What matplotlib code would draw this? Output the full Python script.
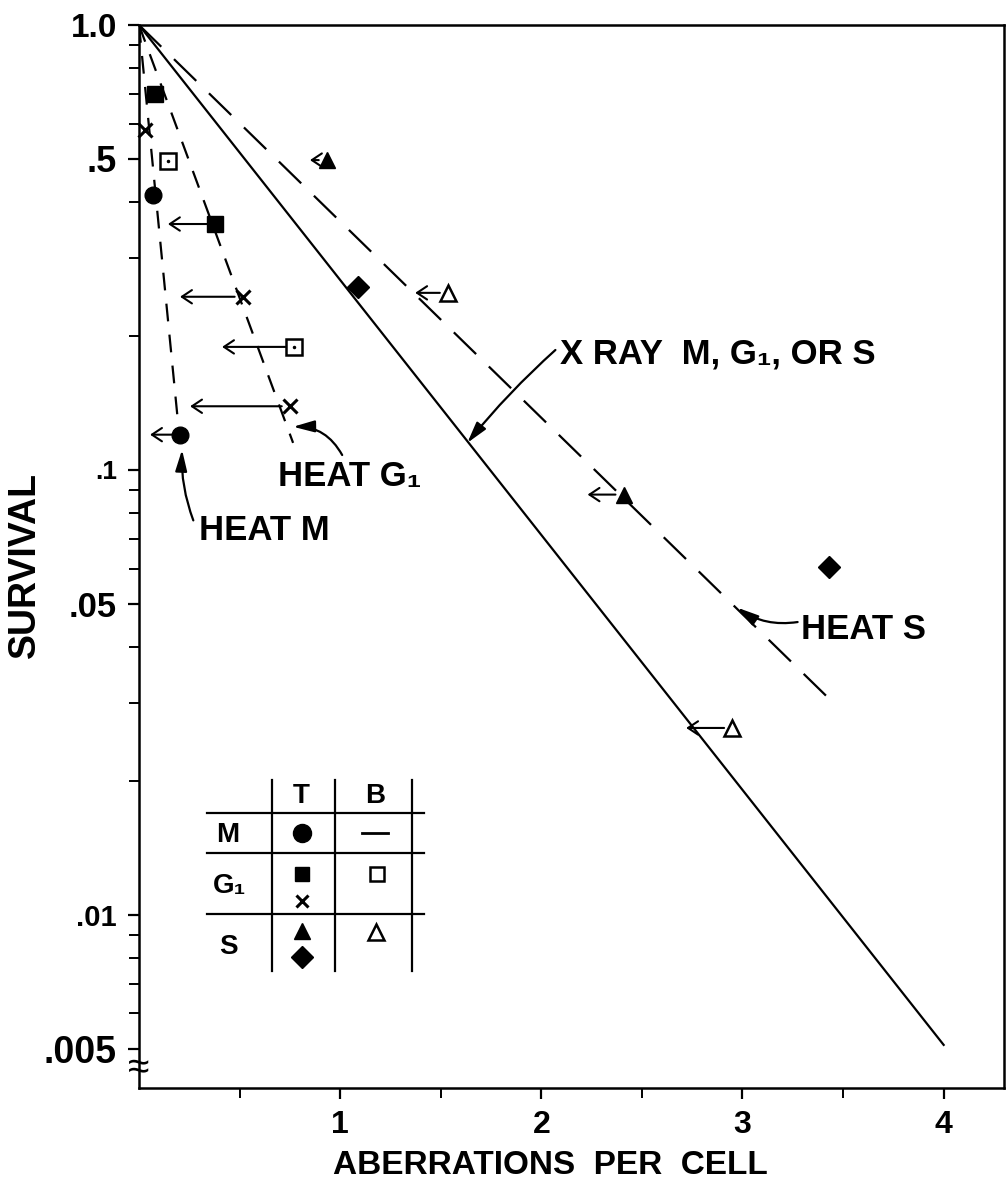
import numpy as np
import matplotlib
matplotlib.use("Agg")
import matplotlib.pyplot as plt
from matplotlib.ticker import FixedLocator, FixedFormatter, NullFormatter

plt.rcParams['font.family'] = ['Liberation Sans', 'DejaVu Sans']
plt.rcParams['font.weight'] = 'bold'

# fitted lines (aberrations per cell, survival)
xray_x = [0.0, 4.0]
xray_y = [1.0, 0.0051]
heat_s_x = [0.0, 3.45]
heat_s_y = [1.0, 0.030]
heat_g1_x = [0.0, 0.766]
heat_g1_y = [1.0, 0.115]
heat_m_x = [0.0, 0.20]
heat_m_y = [1.0, 0.12]

# points, with arrow end (nan = no arrow)
m_T_x = [0.07, 0.204]
m_T_y = [0.415, 0.12]
m_T_lim = [np.nan, 0.055]

g1_sq_x = [0.08, 0.378]
g1_sq_y = [0.70, 0.357]
g1_sq_lim = [np.nan, 0.144]

g1_x_x = [0.03, 0.517, 0.751]
g1_x_y = [0.58, 0.245, 0.139]
g1_x_lim = [np.nan, 0.204, 0.254]

g1_B_x = [0.145, 0.771]
g1_B_y = [0.495, 0.189]
g1_B_lim = [np.nan, 0.413]

s_tri_x = [0.935, 2.41]
s_tri_y = [0.497, 0.088]
s_tri_lim = [0.85, 2.23]

s_dia_x = [1.09, 3.43]
s_dia_y = [0.258, 0.0605]

s_B_x = [1.537, 2.95]
s_B_y = [0.25, 0.0263]
s_B_lim = [1.373, 2.72]

ytick_vals = [0.005, 0.01, 0.05, 0.1, 0.5, 1.0]
ytick_labels = ['.005', '.01', '.05', '.1', '.5', '1.0']
ytick_sizes = [27, 21, 25, 19, 26, 24]
yminor = [0.006, 0.007, 0.008, 0.009, 0.02, 0.03, 0.04,
          0.06, 0.07, 0.08, 0.09, 0.2, 0.3, 0.4, 0.6, 0.7, 0.8, 0.9]
xtick_vals = [1, 2, 3, 4]
xtick_labels = ['1', '2', '3', '4']
xminor = [0.5, 1.5, 2.5, 3.5]

fig = plt.figure(figsize=(10.06, 11.93), dpi=100)
ax = fig.add_axes([139/1006, 1-1088/1193, 865/1006, 1063/1193])
ax.set_yscale('log')
ax.set_xlim(0, 4.30)
ax.set_ylim(0.00408, 1.0)

ax.plot(xray_x, xray_y, color='k', lw=1.6)
ax.plot(heat_s_x, heat_s_y, color='k', lw=1.6, dashes=(14, 8))
ax.plot(heat_g1_x, heat_g1_y, color='k', lw=1.6, dashes=(8, 6))
ax.plot(heat_m_x, heat_m_y, color='k', lw=1.6, dashes=(8, 6))


def left_arrows(xs, ys, lims):
    for x0, y0, x1 in zip(xs, ys, lims):
        if np.isnan(x1):
            continue
        ax.annotate('', xy=(x1, y0), xytext=(x0, y0),
                    arrowprops=dict(arrowstyle='->,head_length=0.45,head_width=0.3',
                                    mutation_scale=16, lw=1.5, color='k',
                                    shrinkA=6, shrinkB=0))


left_arrows(m_T_x, m_T_y, m_T_lim)
left_arrows(g1_sq_x, g1_sq_y, g1_sq_lim)
left_arrows(g1_x_x, g1_x_y, g1_x_lim)
left_arrows(g1_B_x, g1_B_y, g1_B_lim)
left_arrows(s_tri_x, s_tri_y, s_tri_lim)
left_arrows(s_B_x, s_B_y, s_B_lim)

ax.plot(m_T_x, m_T_y, 'o', color='k', ms=12, ls='none', zorder=5, clip_on=False)
ax.plot(g1_sq_x, g1_sq_y, 's', color='k', ms=12, ls='none', zorder=5, clip_on=False)
ax.plot(g1_x_x, g1_x_y, 'x', color='k', ms=10, mew=2.2, ls='none', zorder=5, clip_on=False)
ax.plot(g1_B_x, g1_B_y, 's', mfc='white', mec='k', mew=1.8, ms=11, ls='none', zorder=5)
ax.plot(g1_B_x, g1_B_y, '.', color='k', ms=3, ls='none', zorder=6)
ax.plot(s_tri_x, s_tri_y, '^', color='k', ms=12, ls='none', zorder=5)
ax.plot(s_dia_x, s_dia_y, 'D', color='k', ms=11, ls='none', zorder=5)
ax.plot(s_B_x, s_B_y, '^', mfc='white', mec='k', mew=1.8, ms=12, ls='none', zorder=5)

# annotations
font = dict(fontsize=25, fontweight='bold', va='center', ha='left')
curve = dict(arrowstyle='-|>,head_length=0.8,head_width=0.22', mutation_scale=16,
             lw=1.6, color='k', shrinkA=0, shrinkB=0)
ax.text(2.095, 0.182, 'X RAY  M, G\u2081, OR S', **font)
ax.annotate('', xy=(1.632, 0.115), xytext=(2.07, 0.186),
            arrowprops=dict(curve, connectionstyle='arc3,rad=0.04'))
ax.text(3.29, 0.0437, 'HEAT S', **font)
ax.annotate('', xy=(2.975, 0.049), xytext=(3.274, 0.0455),
            arrowprops=dict(curve, connectionstyle='arc3,rad=-0.2'))
ax.text(0.69, 0.0964, 'HEAT G\u2081', **font)
ax.annotate('', xy=(0.766, 0.125), xytext=(1.01, 0.108),
            arrowprops=dict(curve, connectionstyle='arc3,rad=0.3'))
ax.text(0.30, 0.0730, 'HEAT M', **font)
ax.annotate('', xy=(0.214, 0.111), xytext=(0.27, 0.077),
            arrowprops=dict(curve, connectionstyle='arc3,rad=-0.1'))

# axes styling
for sp in ax.spines.values():
    sp.set_linewidth(1.8)
ax.yaxis.set_major_locator(FixedLocator(ytick_vals))
ax.yaxis.set_major_formatter(FixedFormatter(ytick_labels))
ax.yaxis.set_minor_locator(FixedLocator(yminor))
ax.yaxis.set_minor_formatter(NullFormatter())
ax.xaxis.set_major_locator(FixedLocator(xtick_vals))
ax.xaxis.set_major_formatter(FixedFormatter(xtick_labels))
ax.xaxis.set_minor_locator(FixedLocator(xminor))
ax.tick_params(axis='both', which='major', direction='out', length=8, width=1.6, pad=8)
ax.tick_params(axis='both', which='minor', direction='out', length=7, width=1.4)
ax.tick_params(axis='x', labelsize=23)
for lab, s in zip(ax.get_yticklabels(), ytick_sizes):
    lab.set_fontsize(s)
    lab.set_fontweight('bold')
for lab in ax.get_xticklabels():
    lab.set_fontweight('bold')

ax.set_xlabel('ABERRATIONS  PER  CELL', fontsize=24, fontweight='bold')
ax.xaxis.set_label_coords(0.476, -0.058)
ax.set_ylabel('SURVIVAL', fontsize=27, fontweight='bold')
ax.yaxis.set_label_coords(-0.111, 0.492)

# axis break mark
ax.text(0.0, 0.00452, '\u2248', fontsize=28, ha='center', va='center',
        clip_on=False, fontweight='normal')

# key table
tab = fig.add_axes([200/1006, 1-975/1193, 230/1006, 200/1193])
tab.set_xlim(200, 430)
tab.set_ylim(975, 775)
tab.axis('off')
for yy in [813, 853, 914]:
    tab.plot([207, 424], [yy, yy], color='k', lw=1.6)
for xx in [272, 335, 412]:
    tab.plot([xx, xx], [780, 971], color='k', lw=1.6)
tfont = dict(fontsize=20, fontweight='bold', ha='center', va='center')
tab.text(301, 796, 'T', **tfont)
tab.text(375, 796, 'B', **tfont)
tab.text(228, 835, 'M', **tfont)
tab.text(230, 886, 'G\u2081', **tfont)
tab.text(228, 947, 'S', **tfont)
tab.plot([302], [833], 'o', color='k', ms=13)
tab.plot([362, 388], [833, 833], color='k', lw=2)
tab.plot([302], [874], 's', color='k', ms=10)
tab.plot([302], [901], 'x', color='k', ms=9, mew=2.2)
tab.plot([377], [874], 's', mfc='white', mec='k', mew=1.8, ms=10)
tab.plot([302], [931], '^', color='k', ms=11)
tab.plot([302], [957], 'D', color='k', ms=11)
tab.plot([376], [932], '^', mfc='white', mec='k', mew=1.8, ms=11)

fig.savefig('out.png', dpi=100)
